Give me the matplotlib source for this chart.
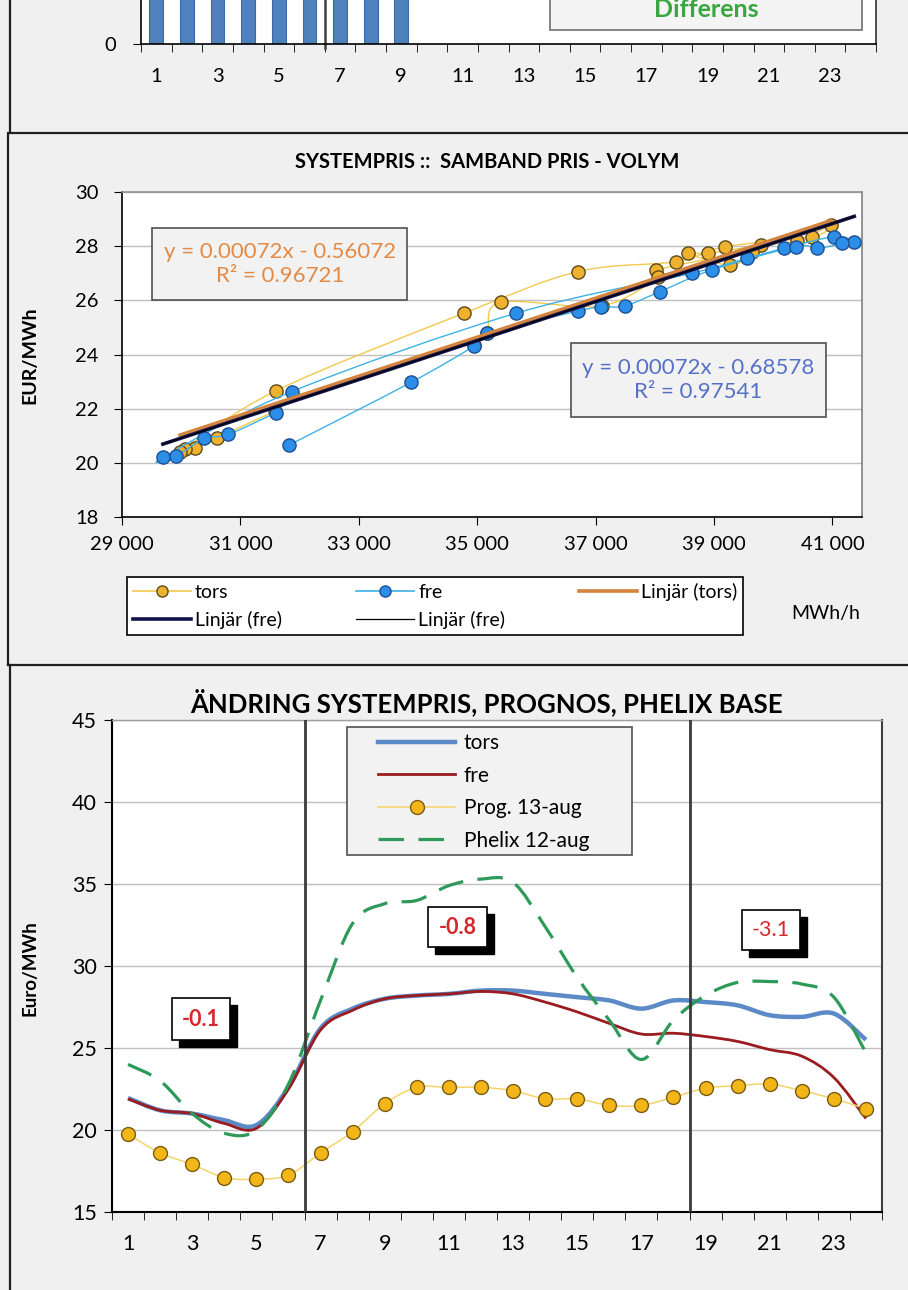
import numpy as np
import matplotlib
matplotlib.use("Agg")
import matplotlib.pyplot as plt
from matplotlib.path import Path
from matplotlib.patches import PathPatch, Rectangle
from matplotlib.lines import Line2D
from matplotlib.ticker import FuncFormatter

plt.rcParams['font.family'] = ['Lato', 'DejaVu Sans']

# ---- data ----
hours = np.arange(1, 25)

# top panel (cut off) - differens bars, only hours 1-9 shown
diff_hours = [1, 2, 3, 4, 5, 6, 7, 8, 9]
diff_vals = [2.1, 2.4, 2.2, 1.9, 2.0, 2.6, 3.1, 3.3, 2.9]

# scatter: volume (MWh/h) vs systempris (EUR/MWh), hour order
tors_mwh = [31580, 30609, 30240, 30070, 29980, 31600, 34771, 36697, 38360, 39190, 40655, 40970,
            40400, 39800, 38905, 38565, 39273, 39650, 38020, 38055, 37100, 35394, 35167, 34941]
tors_eur = [21.90, 20.93, 20.56, 20.50, 20.40, 22.66, 25.52, 27.06, 27.43, 27.98, 28.35, 28.78,
            28.20, 28.04, 27.74, 27.74, 27.30, 27.80, 27.12, 26.87, 25.80, 25.93, 24.80, 24.35]
fre_mwh = [31600, 30795, 30393, 29917, 29691, 31866, 35648, 38621, 39556, 40180, 41029, 41369,
           41170, 40745, 40378, 38961, 38085, 37490, 37093, 36697, 35167, 34941, 33881, 31826]
fre_eur = [21.85, 21.05, 20.90, 20.25, 20.20, 22.63, 25.52, 27.00, 27.55, 27.92, 28.35, 28.16,
           28.10, 27.92, 27.98, 27.12, 26.32, 25.79, 25.76, 25.60, 24.78, 24.31, 22.97, 20.66]

# trendlines as given in the chart
tors_k, tors_m, tors_r2 = 0.00072, -0.56072, 0.96721
fre_k, fre_m, fre_r2 = 0.00072, -0.68578, 0.97541

# bottom panel, EUR/MWh per hour
tors_pris = [21.95, 21.2, 21.0, 20.6, 20.3, 22.6, 26.2, 27.4, 28.0, 28.2, 28.3, 28.5,
             28.5, 28.3, 28.1, 27.9, 27.4, 27.9, 27.8, 27.6, 27.0, 26.9, 27.1, 25.5]
fre_pris = [21.9, 21.2, 21.0, 20.4, 20.1, 22.5, 26.1, 27.3, 28.0, 28.2, 28.3, 28.45,
            28.3, 27.8, 27.2, 26.5, 25.85, 25.9, 25.7, 25.4, 24.9, 24.5, 23.2, 20.7]
prog_13aug = [19.75, 18.6, 17.9, 17.1, 17.0, 17.25, 18.6, 19.9, 21.6, 22.6, 22.6, 22.6,
              22.4, 21.9, 21.9, 21.5, 21.5, 22.0, 22.55, 22.7, 22.8, 22.4, 21.9, 21.3]
phelix_12aug = [24.0, 23.0, 21.0, 19.8, 20.0, 22.8, 27.9, 32.6, 33.8, 34.0, 34.9, 35.3,
                35.1, 32.4, 29.3, 26.7, 24.3, 26.7, 28.2, 29.0, 29.05, 28.9, 28.1, 24.7]
diff_labels = ['-0.1', '-0.8', '-3.1']

W, H = 908, 1290
BG = '#f0f0f0'


def fx(px):
    return px / W


def fy(py):
    return 1 - py / H


def smooth_path(xs, ys):
    # excel style smoothed line (catmull-rom as bezier)
    pts = np.column_stack([xs, ys]).astype(float)
    n = len(pts)
    verts = [pts[0]]
    codes = [Path.MOVETO]
    for i in range(n - 1):
        p0 = pts[i - 1] if i > 0 else pts[i]
        p1 = pts[i]
        p2 = pts[i + 1]
        p3 = pts[i + 2] if i + 2 < n else pts[i + 1]
        verts += [p1 + (p2 - p0) / 6, p2 - (p3 - p1) / 6, p2]
        codes += [Path.CURVE4] * 3
    return Path(verts, codes)


def smooth_line(ax, xs, ys, **kw):
    ax.add_patch(PathPatch(smooth_path(xs, ys), fill=False, **kw))


def fig_box(fig, x0, y0, x1, y1, **kw):
    r = Rectangle((fx(x0), fy(y1)), fx(x1) - fx(x0), fy(y0) - fy(y1),
                  transform=fig.transFigure, **kw)
    fig.add_artist(r)


def fig_line(fig, xs, ys, **kw):
    fig.add_artist(Line2D([fx(v) for v in xs], [fy(v) for v in ys],
                          transform=fig.transFigure, **kw))


fig = plt.figure(figsize=(W / 100, H / 100), dpi=100, facecolor=BG)

# panel borders
fig_line(fig, [10, 10], [0, 133], color='#202020', lw=1.6)
fig_line(fig, [10, 908], [133, 133], color='#202020', lw=1.6)
fig_line(fig, [8, 8], [133, 665], color='#202020', lw=1.6)
fig_line(fig, [8, 908], [665, 665], color='#202020', lw=1.6)
fig_line(fig, [10, 10], [665, 1290], color='#202020', lw=1.6)

# ---------------- top panel (cut) ----------------
ax0 = fig.add_axes([fx(141), fy(44), fx(876) - fx(141), 44 / H])
ax0.bar(diff_hours, diff_vals, width=0.45, color='#4f81bd', edgecolor='#3d6ba5', lw=0.8)
ax0.set_xlim(0.5, 24.5)
ax0.set_ylim(0, 0.6)
ax0.axvline(6.5, color='#404040', lw=1.8, ymin=-0.1, clip_on=False)
ax0.set_yticks([0])
ax0.set_xticks(np.arange(1, 25, 2))
ax0.set_xticks(np.arange(0.5, 25, 1), minor=True)
ax0.tick_params(axis='x', which='major', length=0, pad=17, labelsize=14.5)
ax0.tick_params(axis='x', which='minor', length=6, direction='out')
ax0.tick_params(axis='y', length=6, pad=12, labelsize=14.5)
ax0.spines['top'].set_visible(False)
ax0.spines['right'].set_color('#303030')
for s in ax0.spines.values():
    s.set_linewidth(1.2)

fig_box(fig, 550, -10, 862, 30, facecolor='#f4f4f4', edgecolor='#707070', lw=1.2)
fig.text(fx(706), fy(17), 'Differens', color='#3aa640', fontsize=18,
         fontweight='bold', ha='center', va='baseline')

# ---------------- middle panel: scatter ----------------
ax1 = fig.add_axes([fx(122), fy(517), 740 / W, 325 / H])
ax1.set_facecolor('white')
smooth_line(ax1, tors_mwh, tors_eur, ec='#f2c94c', lw=1.0, zorder=3)
ax1.plot(tors_mwh, tors_eur, 'o', ms=9.5, mfc='#eeb22e', mec='#5c4a1e', mew=1.0, zorder=4)
smooth_line(ax1, fre_mwh, fre_eur, ec='#3db3e3', lw=1.0, zorder=5)
ax1.plot(fre_mwh, fre_eur, 'o', ms=9.5, mfc='#2c8ee6', mec='#1d4f96', mew=1.0, zorder=6)

tx = np.array([min(tors_mwh), max(tors_mwh)])
ax1.plot(tx, tors_k * tx + tors_m, color='#d4843c', lw=2.6, zorder=7)
fx_ = np.array([min(fre_mwh), max(fre_mwh)])
ax1.plot(fx_, fre_k * fx_ + fre_m, color='#13134d', lw=2.6, zorder=8)
ax1.plot(fx_, fre_k * fx_ + fre_m, color='black', lw=0.8, zorder=9)

ax1.set_xlim(29000, 41500)
ax1.set_ylim(18, 30)
ax1.set_xticks(np.arange(29000, 41001, 2000))
ax1.set_yticks(np.arange(18, 31, 2))
ax1.xaxis.set_major_formatter(FuncFormatter(lambda v, p: f"{int(v):,}".replace(',', ' ')))
ax1.grid(axis='y', color='#c0c0c0', lw=1)
ax1.set_axisbelow(True)
ax1.tick_params(axis='both', direction='out', length=6, labelsize=14.5)
ax1.tick_params(axis='y', pad=11)
ax1.tick_params(axis='x', pad=8)
ax1.spines['top'].set_color('#909090')
ax1.spines['right'].set_color('#808080')
for s in ax1.spines.values():
    s.set_linewidth(1.2)

fig.text(fx(487), fy(162), 'SYSTEMPRIS ::  SAMBAND PRIS - VOLYM', fontsize=14.5,
         fontweight='bold', ha='center', va='center')
fig.text(fx(30), fy(355), 'EUR/MWh', fontsize=14, fontweight='bold', rotation=90,
         ha='center', va='center')
fig.text(fx(826), fy(614), 'MWh/h', fontsize=14, ha='center', va='center')

# equation boxes
fig_box(fig, 152, 228, 407, 300, facecolor='#f2f2f2', edgecolor='#505050', lw=1.2)
fig.text(fx(280), fy(264), f"y = {tors_k:.5f}x - {abs(tors_m):.5f}\nR² = {tors_r2:.5f}",
         color='#e38b45', fontsize=16, ha='center', va='center', multialignment='center',
         linespacing=1.25)
fig_box(fig, 571, 343, 826, 417, facecolor='#f2f2f2', edgecolor='#505050', lw=1.2)
fig.text(fx(698), fy(380), f"y = {fre_k:.5f}x - {abs(fre_m):.5f}\nR² = {fre_r2:.5f}",
         color='#5570c8', fontsize=16, ha='center', va='center', multialignment='center',
         linespacing=1.25)

h_tors = Line2D([], [], color='#f2c94c', lw=1.2, marker='o', ms=8, mfc='#eeb22e', mec='#5c4a1e')
h_fre = Line2D([], [], color='#3db3e3', lw=1.2, marker='o', ms=8, mfc='#2c8ee6', mec='#1d4f96')
h_lt = Line2D([], [], color='#d4843c', lw=2.6)
h_lf = Line2D([], [], color='#13134d', lw=2.6)
h_lf2 = Line2D([], [], color='black', lw=0.9)
leg1 = fig.legend([h_tors, h_lf, h_fre, h_lf2, h_lt],
                  ['tors', 'Linjär (fre)', 'fre', 'Linjär (fre)', 'Linjär (tors)'],
                  loc='upper left', bbox_to_anchor=(fx(127), fy(577)), ncol=3,
                  fontsize=14, frameon=True, fancybox=False, edgecolor='black',
                  facecolor='white', framealpha=1, handlelength=3.0, handletextpad=0.2,
                  columnspacing=3.8, labelspacing=0.5, borderpad=0.3, borderaxespad=0)
leg1.get_frame().set_linewidth(1.2)

# ---------------- bottom panel ----------------
ax2 = fig.add_axes([fx(112), fy(1212), 770 / W, 492 / H])
ax2.set_facecolor('white')
smooth_line(ax2, hours, tors_pris, ec='#5b8ac6', lw=3.2, zorder=3)
smooth_line(ax2, hours, fre_pris, ec='#9b1c20', lw=2.0, zorder=4)
smooth_line(ax2, hours, prog_13aug, ec='#f5d36a', lw=1.1, zorder=5)
ax2.plot(hours, prog_13aug, 'o', ms=10, mfc='#f2b619', mec='#7a5c10', mew=1.0, zorder=6)
smooth_line(ax2, hours, phelix_12aug, ec='#2e9a5a', lw=2.3, ls=(0, (8, 4.5)), zorder=7)
for xv in (6.5, 18.5):
    ax2.axvline(xv, color='#3a3a3a', lw=2.0, zorder=8)

ax2.set_xlim(0.5, 24.5)
ax2.set_ylim(15, 45)
ax2.set_yticks(np.arange(15, 46, 5))
ax2.set_xticks(np.arange(1, 25, 2))
ax2.set_xticks(np.arange(0.5, 25, 1), minor=True)
ax2.grid(axis='y', color='#c0c0c0', lw=1)
ax2.set_axisbelow(True)
ax2.tick_params(axis='x', which='major', length=0, pad=16, labelsize=15.5)
ax2.tick_params(axis='x', which='minor', length=6, direction='out')
ax2.tick_params(axis='y', length=6, direction='out', pad=5, labelsize=15.5)
ax2.spines['top'].set_color('#a0a0a0')
ax2.spines['right'].set_color('#404040')
for s in ax2.spines.values():
    s.set_linewidth(1.5)
ax2.spines['top'].set_linewidth(1.0)

fig.text(fx(486), fy(702), 'ÄNDRING SYSTEMPRIS, PROGNOS, PHELIX BASE', fontsize=18.5,
         fontweight='bold', ha='center', va='center')
fig.text(fx(30), fy(968), 'Euro/MWh', fontsize=13.5, fontweight='bold', rotation=90,
         ha='center', va='center')

# difference boxes with shadow
diff_boxes = [(172, 998, 230, 1040, 'bold'), (428, 907, 487, 947, 'bold'),
              (742, 910, 800, 950, 'normal')]
for lab, (x0, y0, x1, y1, wt) in zip(diff_labels, diff_boxes):
    fig_box(fig, x0 + 7, y0 + 7, x1 + 7, y1 + 7, facecolor='black', edgecolor='black', lw=1)
    fig_box(fig, x0, y0, x1, y1, facecolor='white', edgecolor='black', lw=1.2)
    fig.text(fx((x0 + x1) / 2), fy((y0 + y1) / 2), lab, color='#d9262b', fontsize=15.5,
             fontweight=wt, ha='center', va='center')

# legend for bottom panel, frame drawn separately
fig_box(fig, 347, 727, 632, 855, facecolor='#f2f2f2', edgecolor='#505050', lw=1.2)
h_t = Line2D([], [], color='#5b8ac6', lw=3.2)
h_f = Line2D([], [], color='#9b1c20', lw=2.0)
h_p = Line2D([], [], color='#f5d36a', lw=1.1, marker='o', ms=10, mfc='#f2b619', mec='#7a5c10')
h_ph = Line2D([], [], color='#2e9a5a', lw=2.3, ls=(0, (8, 4.5)))
leg2 = fig.legend([h_t, h_f, h_p, h_ph], ['tors', 'fre', 'Prog. 13-aug', 'Phelix 12-aug'],
                  loc='upper left', bbox_to_anchor=(fx(374), fy(729)), ncol=1,
                  fontsize=15, frameon=False, handlelength=3.7, handletextpad=0.4,
                  labelspacing=0.6, borderpad=0.2, borderaxespad=0)

fig.savefig('out.png', dpi=100, facecolor=BG)
